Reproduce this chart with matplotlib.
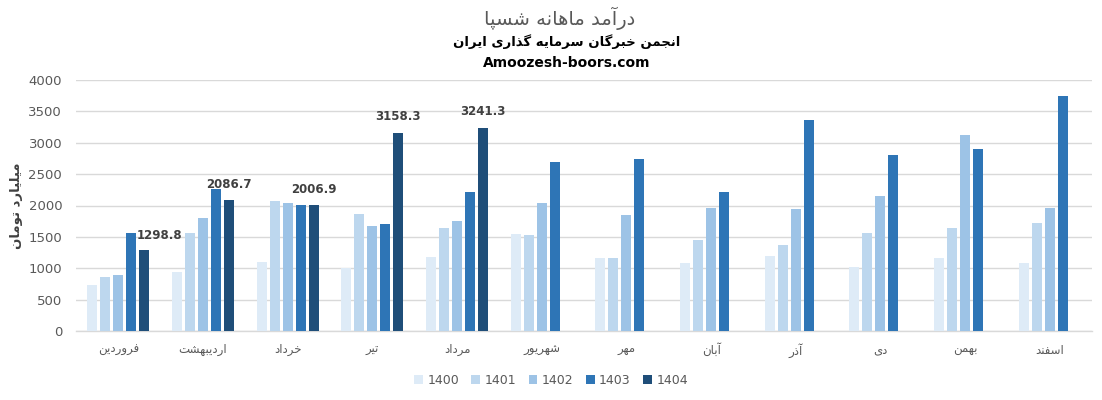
import matplotlib
matplotlib.use("Agg")
import matplotlib.pyplot as plt
import numpy as np

# ---------------- data ----------------
months = ["فروردین", "اردیبهشت", "خرداد", "تیر", "مرداد", "شهریور",
          "مهر", "آبان", "آذر", "دی", "بهمن", "اسفند"]
years = ["1400", "1401", "1402", "1403", "1404"]
v1400 = [740, 940, 1100, 1000, 1180, 1545, 1162, 1083, 1195, 1020, 1162, 1083]
v1401 = [860, 1560, 2070, 1860, 1640, 1530, 1162, 1450, 1370, 1560, 1640, 1720]
v1402 = [890, 1800, 2040, 1670, 1750, 2040, 1847, 1960, 1945, 2150, 3120, 1960]
v1403 = [1562, 2260, 2010, 1700, 2215, 2692, 2740, 2213, 3360, 2803, 2898, 3742]
v1404 = [1298.8, 2086.7, 2006.9, 3158.3, 3241.3]
series = [v1400, v1401, v1402, v1403, v1404]
colors = ["#DEEBF7", "#BDD7EE", "#9DC3E6", "#2E75B6", "#1F4E79"]

title_txt = "درآمد ماهانه شسپا"
subtitle_txt = "انجمن خبرگان سرمایه گذاری ایران"
site_txt = "Amoozesh-boors.com"
ylabel_txt = "میلیارد تومان"
yticks = [0, 500, 1000, 1500, 2000, 2500, 3000, 3500, 4000]

# ------------- simple Persian shaping (no external libs) -------------
FORMS = {
    "ا": ("\uFE8D", "\uFE8E", None, None),
    "آ": ("\uFE81", "\uFE82", None, None),
    "د": ("\uFEA9", "\uFEAA", None, None),
    "ذ": ("\uFEAB", "\uFEAC", None, None),
    "ر": ("\uFEAD", "\uFEAE", None, None),
    "و": ("\uFEED", "\uFEEE", None, None),
    "ب": ("\uFE8F", "\uFE90", "\uFE91", "\uFE92"),
    "ت": ("\uFE95", "\uFE96", "\uFE97", "\uFE98"),
    "ج": ("\uFE9D", "\uFE9E", "\uFE9F", "\uFEA0"),
    "خ": ("\uFEA5", "\uFEA6", "\uFEA7", "\uFEA8"),
    "س": ("\uFEB1", "\uFEB2", "\uFEB3", "\uFEB4"),
    "ش": ("\uFEB5", "\uFEB6", "\uFEB7", "\uFEB8"),
    "ف": ("\uFED1", "\uFED2", "\uFED3", "\uFED4"),
    "ل": ("\uFEDD", "\uFEDE", "\uFEDF", "\uFEE0"),
    "م": ("\uFEE1", "\uFEE2", "\uFEE3", "\uFEE4"),
    "ن": ("\uFEE5", "\uFEE6", "\uFEE7", "\uFEE8"),
    "ه": ("\uFEE9", "\uFEEA", "\uFEEB", "\uFEEC"),
    "پ": ("\uFB56", "\uFB57", "\uFB58", "\uFB59"),
    "گ": ("\uFB92", "\uFB93", "\uFB94", "\uFB95"),
    "ی": ("\uFBFC", "\uFBFD", "\uFBFE", "\uFBFF"),
}


def shape(s):
    out = []
    n = len(s)
    for i, c in enumerate(s):
        if c not in FORMS:
            out.append(c)
            continue
        f = FORMS[c]
        prev = s[i - 1] if i > 0 else None
        nxt = s[i + 1] if i < n - 1 else None
        pc = prev in FORMS and FORMS[prev][2] is not None
        nc = f[2] is not None and nxt in FORMS
        if pc and nc:
            out.append(f[3])
        elif pc:
            out.append(f[1])
        elif nc:
            out.append(f[2])
        else:
            out.append(f[0])
    return "".join(out)[::-1]


plt.rcParams["font.family"] = ["DejaVu Sans"]

fig = plt.figure(figsize=(11.02, 4.0), dpi=100)
ax = fig.add_axes([0.069, 0.1725, 0.922, 0.6275])

x = np.arange(len(months))
pitch = 0.1535
width = 0.118
for k, (vals, col, yr) in enumerate(zip(series, colors, years)):
    xs = x[:len(vals)] + (k - 2) * pitch
    ax.bar(xs, vals, width=width, color=col, label=yr, zorder=3)

# data labels for 1404
for i, v in enumerate(v1404):
    xx = x[i] + 2 * pitch
    dx = 11 if i == 0 else 0
    dy = 10 if i == 0 else 11.5
    ax.annotate(f"{v:.1f}", (xx, v), xytext=(dx, dy), textcoords="offset points",
                ha="center", va="center", fontsize=8.5, fontweight="bold",
                color="#404040", zorder=5)

ax.set_xlim(-0.5, len(months) - 0.5)
ax.set_ylim(0, 4000)
ax.set_yticks(yticks)
ax.set_yticklabels([str(t) for t in yticks])
ax.set_xticks(x)
ax.set_xticklabels([shape(m) for m in months])
ax.yaxis.grid(True, color="#D9D9D9", linewidth=1, zorder=0)
ax.set_axisbelow(True)
for sp in ["top", "right", "left"]:
    ax.spines[sp].set_visible(False)
ax.spines["bottom"].set_color("#D9D9D9")
ax.spines["bottom"].set_linewidth(1)
ax.tick_params(axis="both", length=0, colors="#595959")
ax.tick_params(axis="y", labelsize=9.5, pad=10)
ax.tick_params(axis="x", labelsize=8.5, pad=9)

ax.set_ylabel(shape(ylabel_txt), fontsize=9.5, fontweight="bold", color="#404040")
ax.yaxis.set_label_coords(-0.052, 0.5)

fig.text(0.508, 0.955, shape(title_txt), ha="center", va="center", fontsize=14,
         color="#595959")
fig.text(0.514, 0.895, shape(subtitle_txt), ha="center", va="center", fontsize=9.5,
         fontweight="bold", color="black")
fig.text(0.514, 0.842, site_txt, ha="center", va="center", fontsize=10,
         fontweight="bold", color="black")

leg = ax.legend(loc="center", ncol=5, frameon=False, fontsize=9, handlelength=0.7,
                handleheight=0.7, handletextpad=0.35, columnspacing=1.0)
for t in leg.get_texts():
    t.set_color("#595959")
leg.set_bbox_to_anchor((0.5, 0.05), transform=fig.transFigure)

fig.savefig("out.png", dpi=100)
